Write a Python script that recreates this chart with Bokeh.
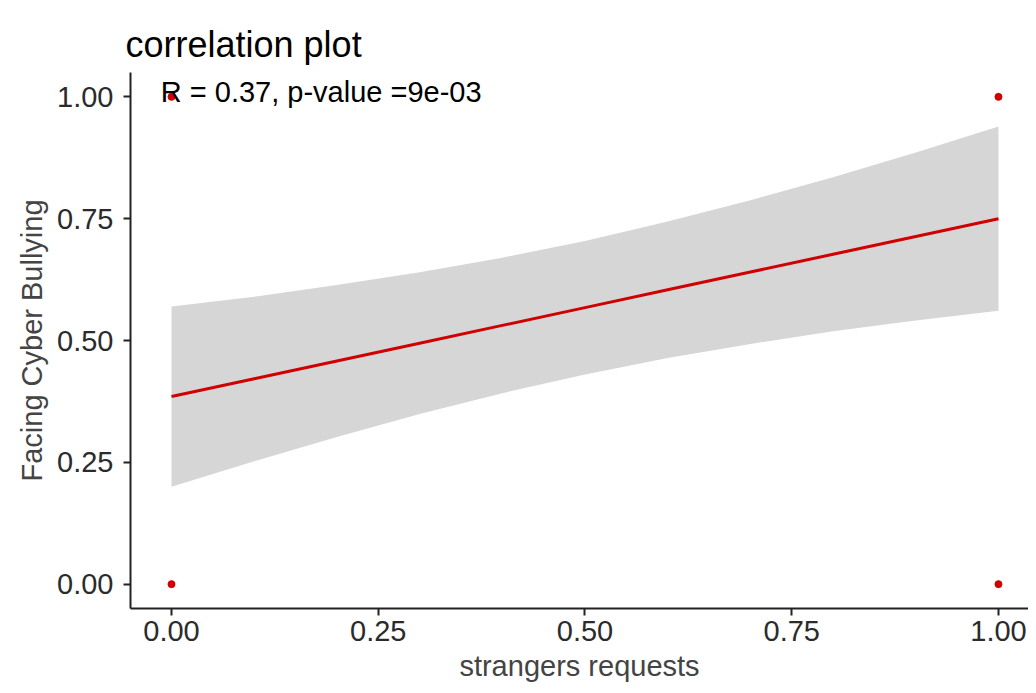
from bokeh.plotting import figure
from bokeh.models import Range1d, FixedTicker, Label
from bokeh.embed import file_html
from bokeh.resources import INLINE

# observed points
pt_x = [0, 0, 1, 1]
pt_y = [1, 0, 1, 0]

# fitted line with confidence band
fit_x = [0.0, 0.1, 0.2, 0.3, 0.4, 0.5, 0.6, 0.7, 0.8, 0.9, 1.0]
fit_y = [0.385, 0.4215, 0.458, 0.4945, 0.531, 0.5675, 0.604, 0.6405, 0.677, 0.7135, 0.75]
band_lo = [0.200, 0.252, 0.302, 0.349, 0.392, 0.430, 0.464, 0.493, 0.519, 0.541, 0.561]
band_hi = [0.570, 0.590, 0.614, 0.640, 0.670, 0.704, 0.744, 0.788, 0.835, 0.886, 0.939]

ticks = [0, 0.25, 0.5, 0.75, 1.0]
tick_labels = {0: "0.00", 0.25: "0.25", 0.5: "0.50", 0.75: "0.75", 1.0: "1.00"}

title_text = "correlation plot"
annot_text = "R = 0.37, p-value =9e-03"
x_title = "strangers requests"
y_title = "Facing Cyber Bullying"

FONT = "Liberation Sans"

p = figure(width=1028, height=685, output_backend="svg", toolbar_location=None,
           x_range=Range1d(-0.0496, 1.0363), y_range=Range1d(-0.05, 1.05),
           min_border_left=130, min_border_right=0, min_border_top=72, min_border_bottom=77,
           title=title_text)

p.outline_line_color = None
p.background_fill_color = "white"
p.border_fill_color = "white"
p.xgrid.visible = False
p.ygrid.visible = False

p.title.text_font = FONT
p.title.text_font_size = "36px"
p.title.text_font_style = "normal"
p.title.text_color = "black"
p.title.offset = -5
p.title.standoff = 16

p.varea(x=fit_x, y1=band_lo, y2=band_hi, fill_color="#D6D6D6", fill_alpha=1.0)
p.line(x=fit_x, y=fit_y, line_color="#D00000", line_width=3)
p.scatter(x=pt_x, y=pt_y, size=7, fill_color="#D00000", line_color="#D00000")

lab = Label(x=-0.013, y=1.01, text=annot_text, text_font=FONT, text_font_size="29px",
            text_color="black", text_baseline="middle", text_align="left")
p.add_layout(lab)

for ax in (p.xaxis[0], p.yaxis[0]):
    ax.ticker = FixedTicker(ticks=ticks)
    ax.major_label_overrides = tick_labels
    ax.minor_tick_line_color = None
    ax.major_tick_in = 0
    ax.major_tick_out = 7
    ax.major_tick_line_width = 2
    ax.major_tick_line_color = "#222222"
    ax.axis_line_width = 2
    ax.axis_line_color = "#222222"
    ax.major_label_text_font = FONT
    ax.major_label_text_font_size = "29px"
    ax.major_label_text_color = "#2b2b2b"
    ax.axis_label_text_font = FONT
    ax.axis_label_text_font_size = "29px"
    ax.axis_label_text_font_style = "normal"
    ax.axis_label_text_color = "#444444"

p.xaxis.axis_label = x_title
p.yaxis.axis_label = y_title
p.xaxis.major_label_standoff = 5
p.yaxis.major_label_standoff = 10
p.xaxis.axis_label_standoff = 6
p.yaxis.axis_label_standoff = 6

open("out.html", "w").write(file_html(p, INLINE))
